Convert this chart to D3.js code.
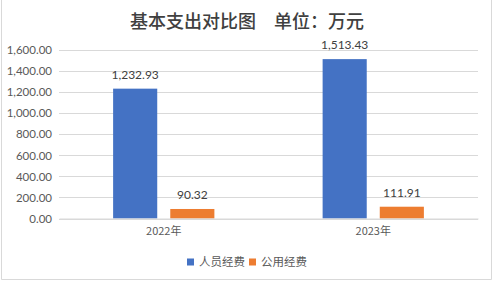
<!DOCTYPE html>
<html><head><meta charset="utf-8">
<script src="https://cdn.jsdelivr.net/npm/d3@7"></script>
<style>body{margin:0;background:#fff}svg{display:block}</style>
</head><body>
<script>
const categories = ["2022年", "2023年"];
const seriesNames = ["人员经费", "公用经费"];
const personnel = [1232.93, 1513.43];
const publicExp = [90.32, 111.91];
const yTicks = [0, 200, 400, 600, 800, 1000, 1200, 1400, 1600];
const colors = ["#4472C4", "#ED7D31"];
const title = "基本支出对比图　单位：万元";

const W = 495, H = 282;
const svg = d3.select("body").append("svg").attr("width", W).attr("height", H);
const numFont = "Lato, 'Noto Sans', sans-serif";
const cjk = "'Noto Sans CJK SC', sans-serif";

// border
svg.append("path").attr("d", "M1.5,0 V279.5 H491.5 V0").attr("fill", "none").attr("stroke", "#d9d9d9").attr("stroke-width", 1);

const x0 = d3.scaleBand().domain(categories).range([59, 478]).paddingInner(0).paddingOuter(0);
const x1 = d3.scaleBand().domain(seriesNames).range([0, x0.bandwidth()]).paddingInner(0.228).paddingOuter(0.947);
const y = d3.scaleLinear().domain([0, 1600]).range([218.5, 50]);

// grid
svg.append("g").selectAll("line").data(yTicks).join("line")
  .attr("x1", 59).attr("x2", 478)
  .attr("y1", d => Math.round(y(d)) + 0.5).attr("y2", d => Math.round(y(d)) + 0.5)
  .attr("stroke", "#d9d9d9");

// y axis
const yAxis = d3.axisLeft(y).tickValues(yTicks).tickSize(0).tickPadding(0)
  .tickFormat(d => d3.format(",.2f")(d));
const ga = svg.append("g").attr("transform", "translate(52,0)").call(yAxis);
ga.select(".domain").remove();
ga.selectAll("text").attr("font-family", numFont).attr("font-size", 11.5).attr("fill", "#595959");

const data = categories.map((c, i) => ({cat: c, vals: [personnel[i], publicExp[i]]}));
const groups = svg.append("g").selectAll("g").data(data).join("g")
  .attr("transform", d => `translate(${x0(d.cat)},0)`);
const bars = groups.selectAll("g").data(d => d.vals.map((v, j) => ({name: seriesNames[j], v, j}))).join("g");
bars.append("rect")
  .attr("x", d => x1(d.name)).attr("width", x1.bandwidth())
  .attr("y", d => y(d.v)).attr("height", d => y(0) - y(d.v))
  .attr("fill", d => colors[d.j]);
bars.append("text")
  .attr("x", d => x1(d.name) + x1.bandwidth() / 2).attr("y", d => y(d.v) - 10)
  .attr("text-anchor", "middle").attr("font-family", numFont).attr("font-size", 12)
  .attr("fill", "#404040").text(d => d3.format(",.2f")(d.v));

// x axis
const xAxis = d3.axisBottom(x0).tickSize(0).tickPadding(9);
const gx = svg.append("g").attr("transform", "translate(0,218.5)").call(xAxis);
gx.select(".domain").attr("stroke", "#d9d9d9");
gx.selectAll("text").attr("font-family", cjk).attr("font-size", 11).attr("fill", "#595959");

// title
svg.append("text").attr("x", 247).attr("y", 28).attr("text-anchor", "middle")
  .attr("font-family", cjk).attr("font-size", 18).attr("font-weight", 500).attr("fill", "#404040").text(title);

// legend
const legendX = [187, 249];
const lg = svg.append("g").selectAll("g").data(seriesNames).join("g")
  .attr("transform", (d, i) => `translate(${legendX[i]},262)`);
lg.append("rect").attr("x", 0).attr("y", -3.5).attr("width", 7).attr("height", 7).attr("fill", (d, i) => colors[i]);
lg.append("text").attr("x", 12).attr("y", 4).attr("font-family", cjk).attr("font-size", 11.5)
  .attr("fill", "#595959").text(d => d);
</script>
</body></html>
